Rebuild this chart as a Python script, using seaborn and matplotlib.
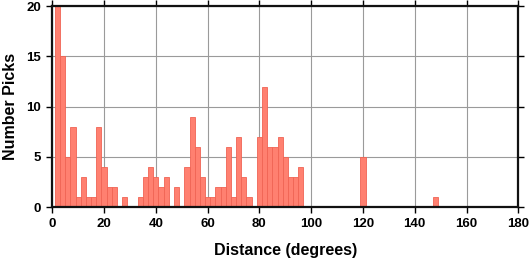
import matplotlib
matplotlib.use("Agg")
import matplotlib.pyplot as plt
import seaborn as sns
import numpy as np

# bin centres (degrees) and pick counts, 2-degree bins
bin_centers = [2, 4, 6, 8, 10, 12, 14, 16, 18, 20, 22, 24, 28, 34, 36, 38, 40, 42, 44,
               48, 52, 54, 56, 58, 60, 62, 64, 66, 68, 70, 72, 74, 76,
               80, 82, 84, 86, 88, 90, 92, 94, 96, 120, 148]
counts = [20, 15, 5, 8, 1, 3, 1, 1, 8, 4, 2, 2, 1, 1, 3, 4, 3, 2, 3,
          2, 4, 9, 6, 3, 1, 1, 2, 2, 6, 1, 7, 3, 1,
          7, 12, 6, 6, 7, 5, 3, 3, 4, 5, 1]
x_ticks = [0, 20, 40, 60, 80, 100, 120, 140, 160, 180]
y_ticks = [0, 5, 10, 15, 20]

sns.set_style("whitegrid", {"grid.color": "#9a9a9a", "axes.edgecolor": "#111111",
                            "text.color": "black", "xtick.color": "black", "ytick.color": "black"})
plt.rcParams['font.family'] = ['Liberation Sans', 'DejaVu Sans']
plt.rcParams['font.weight'] = 'bold'
plt.rcParams['grid.linewidth'] = 0.8

fig = plt.figure(figsize=(5.30, 2.58), dpi=100)
ax = fig.add_axes([0.0987, 0.1965, 0.8792, 0.7802])

sns.histplot(x=bin_centers, weights=counts, binwidth=2, binrange=(1, 181),
             color='#ff8070', edgecolor='#f06454', linewidth=0.6, alpha=1.0, ax=ax, zorder=2)

ax.set_xlim(0, 180)
ax.set_ylim(0, 20)
ax.set_xticks(x_ticks)
ax.set_yticks(y_ticks)
for s in ax.spines.values():
    s.set_visible(True)
    s.set_linewidth(1.6)
    s.set_color('#111111')
    s.set_zorder(5)
ax.tick_params(axis='both', which='major', direction='out', length=4, width=1.0,
               labelsize=9.5, top=True, right=True, bottom=True, left=True,
               labeltop=False, labelright=False, pad=4)
ax.set_axisbelow(True)
ax.grid(True, which='major', color='#9a9a9a', linewidth=0.8)
for lab in ax.get_xticklabels() + ax.get_yticklabels():
    lab.set_fontweight('bold')
ax.set_xlabel('Distance (degrees)', fontsize=11.5, fontweight='bold', labelpad=9, color='black')
ax.set_ylabel('Number Picks', fontsize=11.5, fontweight='bold', labelpad=6, color='black')

fig.savefig('out.png', dpi=100)
